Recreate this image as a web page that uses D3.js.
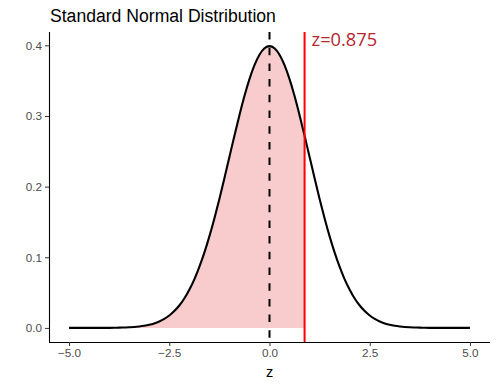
<!DOCTYPE html>
<html>
<head>
<meta charset="utf-8">
<script src="https://cdn.jsdelivr.net/npm/d3@7/dist/d3.min.js"></script>
<style>
  html, body { margin: 0; padding: 0; background: #fff; }
  svg { display: block; }
</style>
</head>
<body>
<svg id="chart" width="497" height="387"></svg>
<script>
// ---- data ----
const zValues = [
  -5.000, -4.875, -4.750, -4.625, -4.500, -4.375, -4.250, -4.125,
  -4.000, -3.875, -3.750, -3.625, -3.500, -3.375, -3.250, -3.125,
  -3.000, -2.875, -2.750, -2.625, -2.500, -2.375, -2.250, -2.125,
  -2.000, -1.875, -1.750, -1.625, -1.500, -1.375, -1.250, -1.125,
  -1.000, -0.875, -0.750, -0.625, -0.500, -0.375, -0.250, -0.125,
   0.000,  0.125,  0.250,  0.375,  0.500,  0.625,  0.750,  0.875,
   1.000,  1.125,  1.250,  1.375,  1.500,  1.625,  1.750,  1.875,
   2.000,  2.125,  2.250,  2.375,  2.500,  2.625,  2.750,  2.875,
   3.000,  3.125,  3.250,  3.375,  3.500,  3.625,  3.750,  3.875,
   4.000,  4.125,  4.250,  4.375,  4.500,  4.625,  4.750,  4.875,
   5.000
];
const densityValues = [
  0.0000, 0.0000, 0.0000, 0.0000, 0.0000, 0.0000, 0.0000, 0.0001,
  0.0001, 0.0002, 0.0004, 0.0006, 0.0009, 0.0013, 0.0020, 0.0030,
  0.0044, 0.0064, 0.0091, 0.0127, 0.0175, 0.0238, 0.0317, 0.0417,
  0.0540, 0.0688, 0.0863, 0.1065, 0.1295, 0.1550, 0.1826, 0.2119,
  0.2420, 0.2721, 0.3011, 0.3282, 0.3521, 0.3719, 0.3867, 0.3958,
  0.3989, 0.3958, 0.3867, 0.3719, 0.3521, 0.3282, 0.3011, 0.2721,
  0.2420, 0.2119, 0.1826, 0.1550, 0.1295, 0.1065, 0.0863, 0.0688,
  0.0540, 0.0417, 0.0317, 0.0238, 0.0175, 0.0127, 0.0091, 0.0064,
  0.0044, 0.0030, 0.0020, 0.0013, 0.0009, 0.0006, 0.0004, 0.0002,
  0.0001, 0.0001, 0.0000, 0.0000, 0.0000, 0.0000, 0.0000, 0.0000,
  0.0000
];
const zCutoff = 0.875;
const zMean = 0;
const xTicks = [-5.0, -2.5, 0.0, 2.5, 5.0];
const yTicks = [0.0, 0.1, 0.2, 0.3, 0.4];
const titleText = "Standard Normal Distribution";
const xLabelText = "z";
const cutoffLabel = "z=0.875";

// ---- layout ----
const svg = d3.select("#chart");
const panel = { left: 49, right: 490, top: 32, bottom: 342 };

const x = d3.scaleLinear().domain([-5.5, 5.5]).range([panel.left, panel.right]);
const yMax = d3.max(densityValues);
const yExp = yMax * 0.05;
const y = d3.scaleLinear().domain([0 - yExp, yMax + yExp]).range([panel.bottom, panel.top]);

const pts = zValues.map((z, i) => ({ z, d: densityValues[i] }));

// shaded area up to cutoff
const shaded = pts.filter(p => p.z <= zCutoff);
svg.append("path")
  .datum(shaded)
  .attr("fill", "rgb(248,204,205)")
  .attr("d", d3.area().x(p => x(p.z)).y0(y(0)).y1(p => y(p.d)));

// dashed mean line
svg.append("line")
  .attr("x1", x(zMean)).attr("x2", x(zMean))
  .attr("y1", panel.top).attr("y2", panel.bottom)
  .attr("stroke", "#000").attr("stroke-width", 2)
  .attr("stroke-dasharray", "7.5,8.2");

// density curve
svg.append("path")
  .datum(pts)
  .attr("fill", "none")
  .attr("stroke", "#000")
  .attr("stroke-width", 2.1)
  .attr("stroke-linejoin", "round")
  .attr("d", d3.line().x(p => x(p.z)).y(p => y(p.d)).curve(d3.curveMonotoneX));

// cutoff line
svg.append("line")
  .attr("x1", x(zCutoff)).attr("x2", x(zCutoff))
  .attr("y1", panel.top).attr("y2", panel.bottom)
  .attr("stroke", "#FF0000").attr("stroke-width", 2);

svg.append("text")
  .attr("x", x(zCutoff) + 7)
  .attr("y", 46)
  .attr("fill", "#B5262E")
  .attr("font-family", "'Open Sans', sans-serif")
  .attr("font-size", 18.3)
  .text(cutoffLabel);

// axes
const xAxis = d3.axisBottom(x).tickValues(xTicks).tickFormat(d3.format(".1f")).tickSizeOuter(0).tickSize(4).tickPadding(3);
const yAxis = d3.axisLeft(y).tickValues(yTicks).tickFormat(d3.format(".1f")).tickSizeOuter(0).tickSize(4).tickPadding(3);

const gx = svg.append("g").attr("transform", `translate(0,${panel.bottom})`).call(xAxis);
const gy = svg.append("g").attr("transform", `translate(${panel.left},0)`).call(yAxis);

[gx, gy].forEach(g => {
  g.select(".domain").attr("stroke", "#000").attr("stroke-width", 1.1);
  g.selectAll(".tick line").attr("stroke", "#333");
  g.selectAll(".tick text")
    .attr("fill", "#4D4D4D")
    .attr("font-family", "'Liberation Sans', Arial, sans-serif")
    .attr("font-size", 11.7);
});
// extend domain lines to corner
gx.select(".domain").attr("d", `M${panel.left},0.5H${panel.right}`);
gy.select(".domain").attr("d", `M0.5,${panel.top}V${panel.bottom}`);

// title
svg.append("text")
  .attr("x", 50).attr("y", 22)
  .attr("font-family", "'Liberation Sans', Arial, sans-serif")
  .attr("font-size", 17.6)
  .attr("fill", "#000")
  .text(titleText);

// x label
svg.append("text")
  .attr("x", (panel.left + panel.right) / 2)
  .attr("y", 377)
  .attr("text-anchor", "middle")
  .attr("font-family", "'Liberation Sans', Arial, sans-serif")
  .attr("font-size", 14.5)
  .attr("fill", "#000")
  .text(xLabelText);
</script>
</body>
</html>
